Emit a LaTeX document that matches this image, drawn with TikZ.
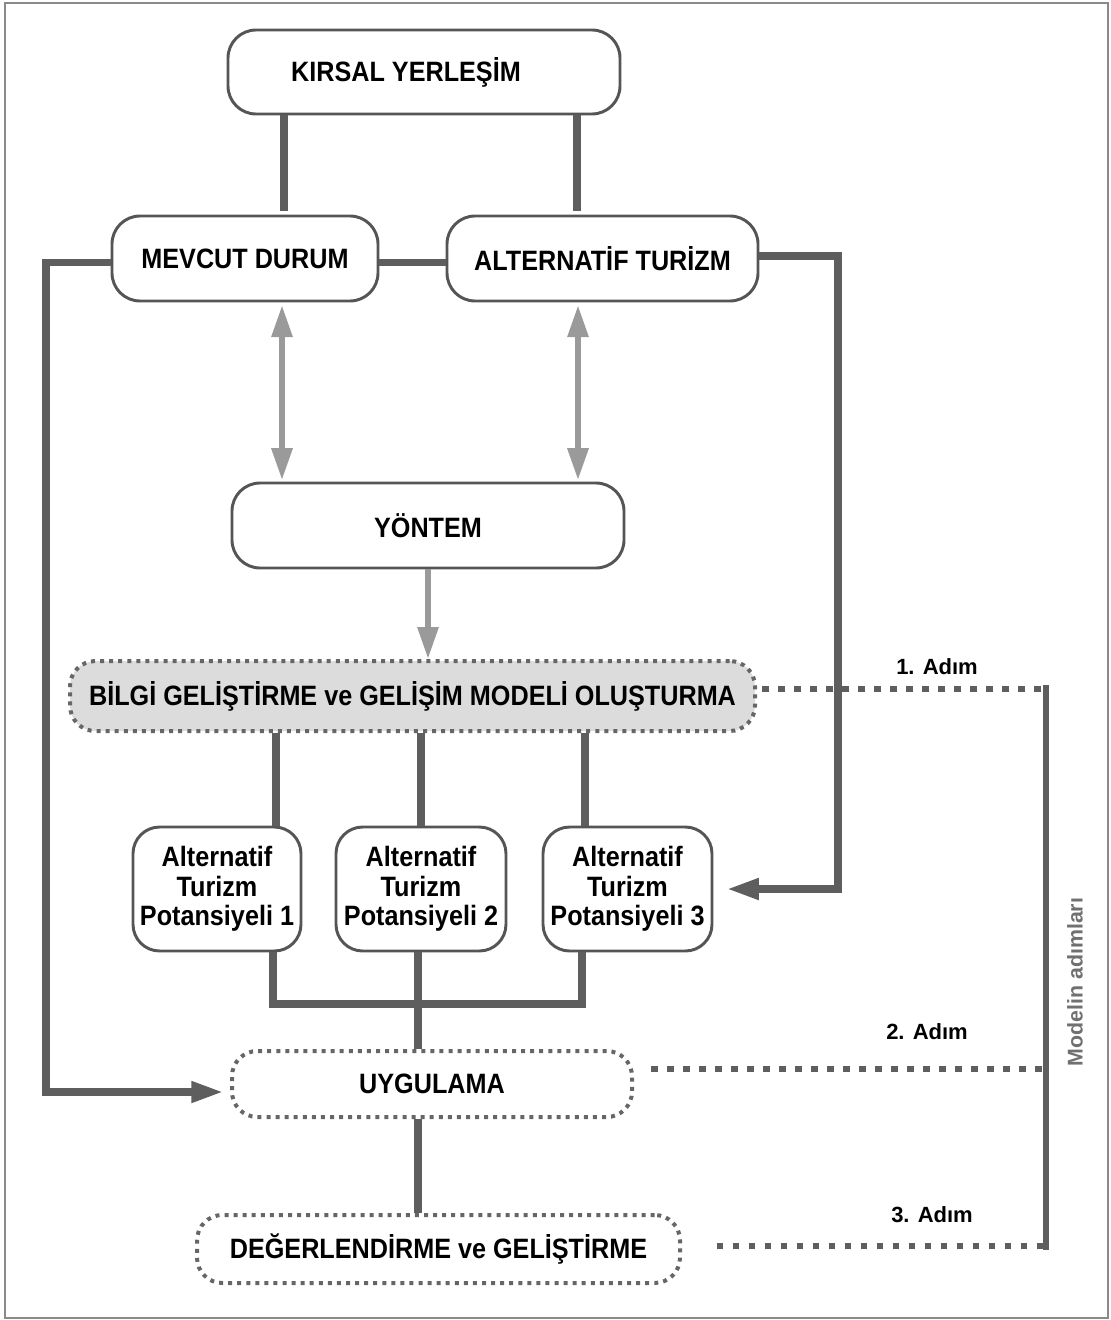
\documentclass[tikz,border=0pt]{standalone}
\usepackage{fontspec}
\setmainfont[FakeStretch=0.9]{Liberation Sans}
\newfontfamily\plainfont{Liberation Sans}
\usetikzlibrary{arrows.meta}
\definecolor{conncol}{HTML}{5E5E5E}
\definecolor{lightcol}{HTML}{9A9A9A}
\definecolor{boxcol}{HTML}{555555}
\definecolor{dotcol}{HTML}{666666}
\definecolor{fillcol}{HTML}{DCDCDC}
\definecolor{framecol}{HTML}{8A8A8A}
\definecolor{sidecol}{HTML}{707070}
\begin{document}
\begin{tikzpicture}[x=0.75pt,y=-0.75pt,
  box/.style={draw=boxcol, line width=2.2pt, rounded corners=21pt, fill=white, align=center,
    font=\bfseries\fontsize{21}{22}\selectfont, inner sep=0pt},
  dotbox/.style={box, draw=dotcol, line width=3pt, dash pattern=on 3pt off 3.8pt},
  conn/.style={draw=conncol, line width=5.5pt},
  lightarrow/.style={draw=lightcol, line width=4.5pt, {Triangle[length=24pt,width=15pt]}-{Triangle[length=24pt,width=15pt]}},
  lightsingle/.style={draw=lightcol, line width=4.5pt, -{Triangle[length=24pt,width=15pt]}},
  darkarrow/.style={conn, -{Triangle[length=24pt,width=15pt]}},
  stepline/.style={draw=conncol, line width=5pt, dash pattern=on 5pt off 7pt},
  steplabel/.style={font=\plainfont\bfseries\fontsize{16.5}{19}\selectfont},
]
\useasboundingbox (0,0) rectangle (1110,1320);
\draw[framecol, line width=1.5pt] (5,3) rectangle (1108,1318);

% nodes
\node[box, minimum width=294pt, minimum height=63pt] (kirsal) at (424,72) {KIRSAL YERLEŞİM\hspace{27pt}};
\node[box, minimum width=199.5pt, minimum height=63.75pt] (mevcut) at (245,258.5) {MEVCUT DURUM};
\node[box, minimum width=233.25pt, minimum height=63.75pt] (alt) at (602.5,258.5) {ALTERNATİF TURİZM};
\node[box, minimum width=294pt, minimum height=63.75pt] (yontem) at (428,525.5) {YÖNTEM};
\node[dotbox, fill=fillcol, rounded corners=19pt, minimum width=513.75pt, minimum height=52.5pt] (bilgi) at (412.5,696) {BİLGİ GELİŞTİRME ve GELİŞİM MODELİ OLUŞTURMA};
\node[box, rounded corners=20pt, minimum width=126pt, minimum height=93pt] (pot1) at (217,889) {Alternatif\\Turizm\\Potansiyeli 1};
\node[box, rounded corners=20pt, minimum width=127.5pt, minimum height=93pt] (pot2) at (421,889) {Alternatif\\Turizm\\Potansiyeli 2};
\node[box, rounded corners=20pt, minimum width=126.75pt, minimum height=93pt] (pot3) at (627.5,889) {Alternatif\\Turizm\\Potansiyeli 3};
\node[dotbox, rounded corners=19pt, minimum width=300pt, minimum height=49.5pt] (uyg) at (432,1084) {UYGULAMA};
\node[dotbox, rounded corners=19pt, minimum width=362.25pt, minimum height=51pt] (deg) at (438.5,1249) {DEĞERLENDİRME ve GELİŞTİRME};

% helper coordinates
\coordinate (k1) at (284,0);
\coordinate (k2) at (577,0);
\coordinate (a1) at (282,0);
\coordinate (a2) at (578,0);
\coordinate (b1) at (276,0);
\coordinate (b2) at (421,0);
\coordinate (b3) at (585,0);
\coordinate (e1) at (273,1004);
\coordinate (e2) at (418,1004);
\coordinate (e3) at (582,1004);
\coordinate (cL) at (46,700);
\coordinate (cR) at (838,700);
\coordinate (s1) at (1046,689);
\coordinate (s2) at (1046,1069);
\coordinate (s3) at (1046,1246);

% top connectors
\draw[conn] (kirsal.south -| k1) -- ([yshift=3pt]mevcut.north -| k1);
\draw[conn] (kirsal.south -| k2) -- ([yshift=3pt]alt.north -| k2);
\draw[conn] ([yshift=-3pt]mevcut.east) -- ([yshift=-3pt]alt.west);

% side loops
\draw[darkarrow, line join=miter, shorten >=5pt] ([yshift=-3pt]mevcut.west) -| (cL) |- ([yshift=-6pt]uyg.west);
\draw[darkarrow, line join=miter, shorten >=10pt] ([yshift=2pt]alt.east) -| (cR) |- (pot3.east);

% light arrows
\draw[lightarrow, shorten <=2pt, shorten >=1pt] (mevcut.south -| a1) -- (yontem.north -| a1);
\draw[lightarrow, shorten <=2pt, shorten >=1pt] (alt.south -| a2) -- (yontem.north -| a2);
\draw[lightsingle] (yontem.south) -- (bilgi.north -| yontem.south);

% to potentials
\draw[conn] (bilgi.south -| b1) -- (pot1.north -| b1);
\draw[conn] (bilgi.south -| b2) -- (pot2.north -| b2);
\draw[conn] (bilgi.south -| b3) -- (pot3.north -| b3);

% from potentials
\draw[conn, line join=miter] (pot1.south -| e1) -- (e1) -- (e3) -- (pot3.south -| e3);
\draw[conn] (pot2.south -| e2) -- (uyg.north -| e2);
\draw[conn] (uyg.south -| e2) -- (deg.north -| e2);

% model steps
\draw[stepline, shorten <=4pt] (bilgi.east |- s1) -- (s1);
\draw[stepline, shorten <=13pt] (uyg.east |- s2) -- (s2);
\draw[stepline, shorten <=26pt] (deg.east |- s3) -- (s3);
\draw[conn, line width=5pt] ([yshift=3pt]s1) -- ([yshift=-3pt]s3);

\node[steplabel] (l1) at (937,667) {1. Adım};
\node[steplabel] (l2) at (927,1032) {2. Adım};
\node[steplabel] (l3) at (932,1215) {3. Adım};
\node[rotate=90, text=sidecol, font=\plainfont\bfseries\fontsize{16}{18}\selectfont] (side) at (1075,982) {Modelin adımları};
\end{tikzpicture}
\end{document}
